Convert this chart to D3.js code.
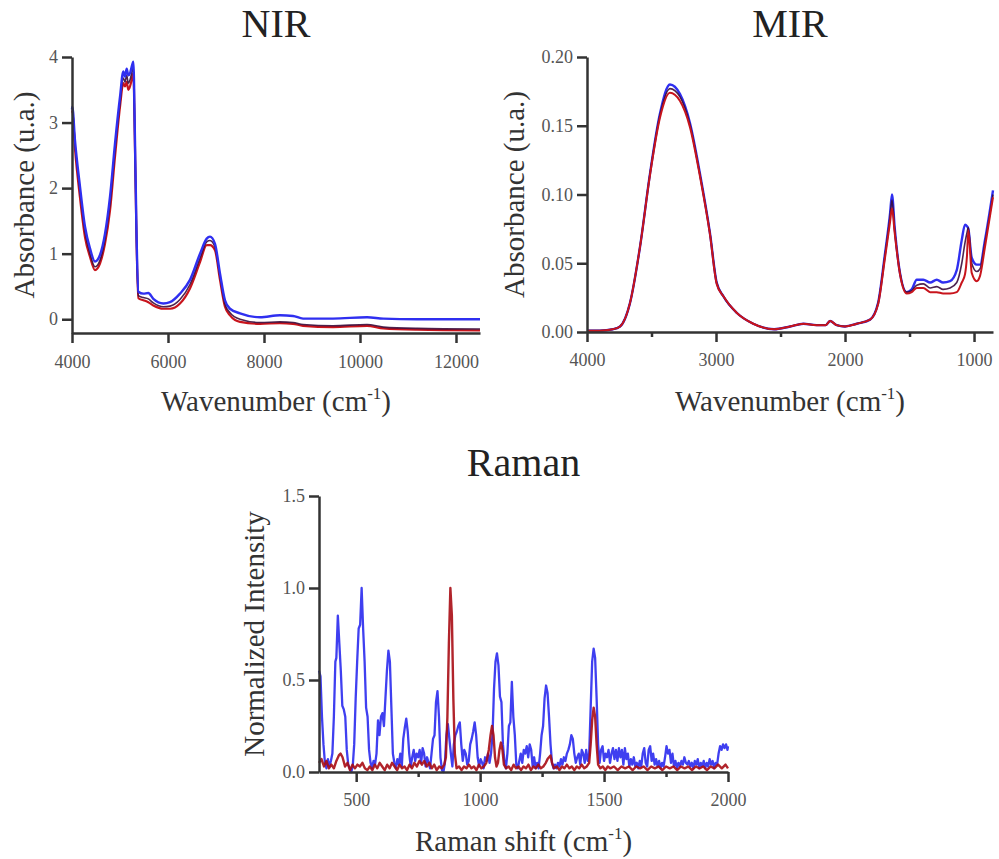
<!DOCTYPE html>
<html>
<head>
<meta charset="utf-8">
<script src="https://cdn.jsdelivr.net/npm/d3@7"></script>
<style>
  body { margin: 0; background: #fff; }
  svg { display: block; }
  text { font-family: "Liberation Serif", "Times New Roman", serif; }
  .axis path, .axis line { stroke: #333; stroke-width: 2.5; }
  .axis text { fill: #555; font-size: 18px; font-family: "Liberation Serif", "Times New Roman", serif; }
</style>
</head>
<body>
<svg id="chart" width="999" height="859"></svg>
<script>
// NIR spectra (wavenumber, absorbance)
var nirX = [4000, 4007, 4062, 4167, 4271, 4375, 4479, 4583, 4687, 4792,
  4896, 5000, 5069, 5104, 5139, 5174, 5208, 5243, 5278, 5312,
  5347, 5382, 5486, 5590, 5694, 5903, 6042, 6250, 6458, 6667,
  6806, 6875, 6979, 7083, 7187, 7292, 7500, 7917, 8333, 8604,
  8813, 9437, 10146, 10486, 11187, 12500];
var nirBlue = [3.2, 3.24, 2.73, 2.02, 1.41, 1.08, 0.88, 0.98, 1.3, 1.87,
  2.68, 3.39, 3.78, 3.7, 3.82, 3.72, 3.75, 3.85, 3.93, 2.73,
  1.2, 0.42, 0.39, 0.40, 0.31, 0.24, 0.26, 0.39, 0.6, 1.0,
  1.23, 1.26, 1.15, 0.7, 0.29, 0.16, 0.09, 0.03, 0.06, 0.05,
  0.01, 0.01, 0.03, 0.01, 0.0, 0.0];
var nirDark = [3.2, 3.22, 2.68, 1.95, 1.33, 1.0, 0.8, 0.9, 1.22, 1.76,
  2.58, 3.3, 3.68, 3.62, 3.72, 3.6, 3.65, 3.75, 3.85, 2.65,
  1.15, 0.36, 0.33, 0.31, 0.25, 0.19, 0.2, 0.3, 0.53, 0.93,
  1.18, 1.2, 1.1, 0.65, 0.23, 0.1, 0.0, -0.05, -0.04, -0.05,
  -0.08, -0.1, -0.08, -0.12, -0.14, -0.15];
var nirRed = [3.15, 3.18, 2.6, 1.85, 1.25, 0.95, 0.75, 0.85, 1.15, 1.66,
  2.48, 3.24, 3.6, 3.55, 3.62, 3.5, 3.55, 3.65, 3.75, 2.6,
  1.1, 0.32, 0.29, 0.26, 0.21, 0.16, 0.16, 0.24, 0.47, 0.87,
  1.13, 1.13, 1.05, 0.6, 0.19, 0.06, -0.04, -0.07, -0.06, -0.07,
  -0.1, -0.12, -0.1, -0.14, -0.16, -0.17];

// MIR spectra
var mirX = [4000, 3900, 3800, 3744, 3667, 3589, 3512, 3434, 3357, 3279,
  3202, 3124, 3047, 2995, 2943, 2840, 2711, 2550, 2426, 2323,
  2220, 2150, 2116, 2065, 2000, 1910, 1806, 1744, 1693, 1651,
  1636, 1615, 1574, 1522, 1483, 1444, 1393, 1340, 1289, 1240,
  1186, 1134, 1095, 1070, 1055, 1044, 1018, 979, 953, 915,
  853];
var mirBlue = [0.001, 0.001, 0.002, 0.004, 0.021, 0.062, 0.115, 0.159, 0.180, 0.173,
  0.152, 0.115, 0.072, 0.036, 0.026, 0.014, 0.006, 0.002, 0.004, 0.006,
  0.005, 0.005, 0.008, 0.005, 0.004, 0.006, 0.009, 0.021, 0.055, 0.086,
  0.100, 0.076, 0.043, 0.029, 0.031, 0.038, 0.038, 0.036, 0.038, 0.036,
  0.037, 0.045, 0.067, 0.078, 0.077, 0.075, 0.054, 0.049, 0.049, 0.067,
  0.103];
var mirDark = [0.001, 0.001, 0.002, 0.004, 0.021, 0.062, 0.115, 0.158, 0.177, 0.171,
  0.151, 0.114, 0.072, 0.036, 0.026, 0.014, 0.006, 0.002, 0.004, 0.006,
  0.005, 0.005, 0.008, 0.005, 0.004, 0.006, 0.009, 0.021, 0.054, 0.084,
  0.096, 0.074, 0.043, 0.029, 0.030, 0.034, 0.035, 0.032, 0.033, 0.031,
  0.032, 0.036, 0.05, 0.065, 0.072, 0.076, 0.05, 0.044, 0.046, 0.065,
  0.1];
var mirRed = [0.001, 0.001, 0.002, 0.004, 0.021, 0.062, 0.114, 0.156, 0.174, 0.168,
  0.149, 0.113, 0.071, 0.035, 0.026, 0.014, 0.006, 0.002, 0.004, 0.006,
  0.005, 0.005, 0.008, 0.005, 0.004, 0.006, 0.009, 0.02, 0.052, 0.08,
  0.09, 0.072, 0.042, 0.028, 0.029, 0.032, 0.032, 0.029, 0.029, 0.028,
  0.028, 0.029, 0.036, 0.042, 0.055, 0.074, 0.043, 0.037, 0.041, 0.062,
  0.098];

// Raman spectra [shift, normalized intensity]
var ramanBlue = [[350,0.55],[356,0.52],[362,0.3],[368,0.15],[374,0.05],[380,0.02],[386,0.07],[392,0.03],[398,0.06],[404,0.1],
  [410,0.3],[416,0.6],[420,0.62],[426,0.85],[432,0.7],[438,0.55],[444,0.36],[450,0.34],[456,0.3],[462,0.12],
  [468,0.04],[474,0.02],[480,0.0],[486,0.03],[492,0.15],[498,0.4],[504,0.6],[510,0.78],[516,0.8],[522,1.0],
  [528,0.78],[534,0.6],[540,0.35],[546,0.3],[552,0.12],[558,0.05],[564,0.02],[570,0.06],[576,0.04],[582,0.1],
  [588,0.28],[594,0.2],[600,0.3],[606,0.32],[612,0.25],[618,0.4],[624,0.55],[630,0.66],[636,0.6],[642,0.35],
  [648,0.1],[654,0.05],[660,0.02],[666,0.07],[672,0.04],[678,0.1],[684,0.03],[690,0.18],[696,0.24],[702,0.29],
  [708,0.22],[714,0.1],[720,0.03],[726,0.08],[732,0.12],[738,0.06],[744,0.1],[750,0.08],[756,0.12],[762,0.05],
  [768,0.13],[774,0.1],[780,0.03],[786,0.08],[792,0.05],[798,0.02],[804,0.1],[810,0.18],[816,0.2],[822,0.38],
  [828,0.44],[834,0.3],[840,0.08],[846,0.01],[852,0.0],[858,0.05],[864,0.2],[870,0.26],[876,0.18],[882,0.1],
  [888,0.03],[894,0.15],[900,0.2],[906,0.22],[912,0.25],[918,0.27],[924,0.15],[930,0.06],[936,0.12],[942,0.1],
  [948,0.04],[954,0.06],[960,0.15],[966,0.18],[972,0.22],[978,0.27],[984,0.2],[990,0.08],[996,0.03],[1002,0.07],
  [1008,0.05],[1014,0.02],[1020,0.08],[1026,0.06],[1032,0.1],[1038,0.05],[1044,0.1],[1050,0.2],[1056,0.45],[1062,0.6],
  [1068,0.645],[1074,0.58],[1080,0.41],[1086,0.38],[1092,0.15],[1098,0.06],[1104,0.02],[1110,0.1],[1116,0.25],[1122,0.27],
  [1128,0.49],[1134,0.3],[1140,0.2],[1146,0.04],[1152,0.02],[1158,0.06],[1164,0.1],[1170,0.05],[1176,0.12],[1182,0.1],
  [1188,0.14],[1194,0.08],[1200,0.15],[1206,0.12],[1212,0.03],[1218,0.08],[1224,0.02],[1230,0.05],[1236,0.02],[1242,0.1],
  [1248,0.2],[1254,0.25],[1260,0.4],[1266,0.47],[1272,0.43],[1278,0.3],[1284,0.15],[1290,0.05],[1296,0.02],[1302,0.04],
  [1308,0.02],[1314,0.05],[1320,0.03],[1326,0.07],[1332,0.04],[1338,0.08],[1344,0.06],[1350,0.1],[1356,0.12],[1362,0.15],
  [1368,0.2],[1374,0.18],[1380,0.1],[1386,0.05],[1392,0.08],[1398,0.1],[1404,0.04],[1410,0.12],[1416,0.1],[1422,0.05],
  [1428,0.12],[1434,0.06],[1440,0.1],[1446,0.35],[1452,0.6],[1458,0.67],[1464,0.62],[1470,0.4],[1476,0.15],[1482,0.05],
  [1488,0.12],[1494,0.14],[1500,0.06],[1506,0.1],[1512,0.08],[1518,0.12],[1524,0.05],[1530,0.1],[1536,0.13],[1542,0.07],
  [1548,0.12],[1554,0.06],[1560,0.13],[1566,0.08],[1572,0.12],[1578,0.04],[1584,0.13],[1590,0.07],[1596,0.1],[1602,0.03],
  [1608,0.07],[1614,0.04],[1620,0.08],[1626,0.03],[1632,0.05],[1638,0.02],[1644,0.06],[1650,0.03],[1656,0.1],[1662,0.13],
  [1668,0.05],[1674,0.03],[1680,0.12],[1686,0.14],[1692,0.06],[1698,0.1],[1704,0.04],[1710,0.07],[1716,0.03],[1722,0.06],
  [1728,0.02],[1734,0.05],[1740,0.03],[1746,0.08],[1752,0.14],[1758,0.1],[1764,0.12],[1770,0.05],[1776,0.1],[1782,0.03],
  [1788,0.06],[1794,0.02],[1800,0.05],[1806,0.03],[1812,0.06],[1818,0.04],[1824,0.08],[1830,0.05],[1836,0.04],[1842,0.06],
  [1848,0.03],[1854,0.05],[1860,0.02],[1866,0.06],[1872,0.04],[1878,0.07],[1884,0.02],[1890,0.05],[1896,0.03],[1902,0.06],
  [1908,0.02],[1914,0.05],[1920,0.03],[1926,0.07],[1932,0.04],[1938,0.06],[1944,0.02],[1950,0.05],[1956,0.04],[1962,0.1],
  [1968,0.14],[1974,0.12],[1980,0.15],[1986,0.13],[1992,0.15],[1998,0.12],[2000,0.14]];
var ramanRed = [[350,0.05],[360,0.07],[370,0.03],[380,0.06],[390,0.02],[400,0.04],[410,0.02],[420,0.06],[430,0.09],[437,0.1],
  [445,0.08],[455,0.03],[465,0.05],[475,0.01],[485,0.04],[495,0.02],[505,0.04],[515,0.03],[525,0.05],[535,0.02],
  [545,0.01],[555,0.03],[565,0.01],[575,0.04],[585,0.02],[595,0.05],[605,0.03],[615,0.01],[625,0.04],[635,0.02],
  [645,0.05],[655,0.03],[665,0.01],[675,0.04],[685,0.02],[695,0.03],[705,0.01],[715,0.04],[725,0.02],[735,0.05],
  [745,0.03],[755,0.06],[765,0.04],[775,0.06],[785,0.03],[795,0.05],[805,0.02],[815,0.04],[825,0.01],[835,0.03],
  [845,0.02],[855,0.04],[862,0.08],[868,0.3],[874,0.7],[880,1.0],[886,0.85],[892,0.4],[898,0.1],[905,0.02],
  [915,0.03],[925,0.01],[935,0.03],[945,0.02],[955,0.04],[965,0.02],[975,0.03],[985,0.01],[995,0.04],[1005,0.02],
  [1015,0.03],[1025,0.05],[1035,0.12],[1042,0.2],[1048,0.25],[1054,0.2],[1060,0.08],[1066,0.03],[1072,0.05],[1078,0.12],
  [1084,0.16],[1090,0.12],[1096,0.04],[1105,0.02],[1115,0.03],[1125,0.01],[1135,0.04],[1145,0.02],[1155,0.03],[1165,0.01],
  [1175,0.03],[1185,0.02],[1195,0.04],[1205,0.01],[1215,0.03],[1225,0.02],[1235,0.04],[1245,0.02],[1255,0.03],[1265,0.05],
  [1272,0.07],[1278,0.08],[1284,0.09],[1290,0.05],[1298,0.02],[1310,0.03],[1320,0.01],[1330,0.03],[1340,0.02],[1350,0.04],
  [1360,0.02],[1370,0.03],[1380,0.01],[1390,0.03],[1400,0.02],[1410,0.04],[1420,0.02],[1430,0.03],[1440,0.05],[1446,0.15],
  [1452,0.28],[1458,0.35],[1464,0.3],[1470,0.15],[1476,0.04],[1485,0.02],[1495,0.03],[1505,0.01],[1515,0.03],[1525,0.02],
  [1540,0.03],[1555,0.01],[1570,0.03],[1585,0.02],[1600,0.03],[1615,0.01],[1630,0.03],[1645,0.02],[1660,0.03],[1675,0.01],
  [1690,0.03],[1705,0.02],[1720,0.03],[1735,0.01],[1750,0.03],[1765,0.02],[1780,0.03],[1795,0.01],[1810,0.03],[1825,0.02],
  [1840,0.03],[1855,0.01],[1870,0.03],[1885,0.02],[1900,0.03],[1915,0.01],[1930,0.03],[1945,0.02],[1960,0.04],[1975,0.02],
  [1990,0.04],[2000,0.02]];

var nirXTicks = [4000, 6000, 8000, 10000, 12000];
var nirYTicks = [0, 1, 2, 3, 4];
var mirXTicks = [4000, 3000, 2000, 1000];
var mirXMinor = [3500, 2500, 1500];
var mirYTicks = [0, 0.05, 0.10, 0.15, 0.20];
var ramanXTicks = [500, 1000, 1500, 2000];
var ramanXMinor = [750, 1250, 1750];
var ramanYTicks = [0, 0.5, 1.0, 1.5];

function zipXY(xs, ys) {
  return xs.map(function(v, i) { return [v, ys[i]]; });
}

var svg = d3.select("#chart");

function drawPanel(p) {
  var x = d3.scaleLinear().domain(p.xDomain).range([p.left, p.right]);
  var y = d3.scaleLinear().domain(p.yDomain).range([p.bottom, p.top]);
  var g = svg.append("g");

  p.series.forEach(function(s) {
    var line = d3.line()
      .x(function(d) { return x(d[0]); })
      .y(function(d) { return y(d[1]); })
      .curve(s.curve || d3.curveMonotoneX);
    g.append("path").datum(s.data)
      .attr("d", line)
      .attr("fill", "none")
      .attr("stroke", s.color)
      .attr("stroke-width", s.width)
      .attr("stroke-opacity", s.opacity)
      .attr("stroke-linejoin", "round");
  });

  g.append("g").attr("class", "axis")
    .attr("transform", "translate(0," + p.bottom + ")")
    .call(d3.axisBottom(x).tickValues(p.xTicks).tickSize(10).tickSizeOuter(0)
      .tickPadding(p.xPad).tickFormat(d3.format("d")));
  if (p.xMinor) {
    g.append("g").attr("class", "axis")
      .attr("transform", "translate(0," + p.bottom + ")")
      .call(d3.axisBottom(x).tickValues(p.xMinor).tickSize(5).tickFormat(""))
      .select(".domain").remove();
  }
  g.append("g").attr("class", "axis")
    .attr("transform", "translate(" + p.left + ",0)")
    .call(d3.axisLeft(y).tickValues(p.yTicks).tickSize(10).tickSizeOuter(0)
      .tickPadding(4).tickFormat(d3.format(p.yFormat)));

  // panel title
  g.append("text")
    .attr("x", (p.left + p.right) / 2).attr("y", p.titleY)
    .attr("text-anchor", "middle").attr("font-size", 40).attr("fill", "#222")
    .text(p.title);

  // x axis title with superscript
  var xt = g.append("text")
    .attr("x", (p.left + p.right) / 2).attr("y", p.xTitleY)
    .attr("text-anchor", "middle").attr("font-size", 29).attr("fill", "#333");
  xt.append("tspan").text(p.xTitle + " (cm");
  xt.append("tspan").attr("font-size", 17).attr("dy", -12).text("-1");
  xt.append("tspan").attr("dy", 12).text(")");

  g.append("text")
    .attr("transform", "translate(" + p.yTitleX + "," + ((p.top + p.bottom) / 2) + ") rotate(-90)")
    .attr("text-anchor", "middle").attr("font-size", 29).attr("fill", "#333")
    .text(p.yTitle);
}

drawPanel({
  title: "NIR", titleY: 37,
  left: 72, right: 480, top: 57, bottom: 333,
  xDomain: [4000, 12500], yDomain: [-0.21, 4],
  xTicks: nirXTicks, yTicks: nirYTicks, yFormat: "d", xPad: 12,
  xTitle: "Wavenumber", xTitleY: 411,
  yTitle: "Absorbance (u.a.)", yTitleX: 34,
  series: [
    { data: zipXY(nirX, nirRed), color: "#c8141c", width: 2.2, opacity: 1 },
    { data: zipXY(nirX, nirDark), color: "#3a0c3c", width: 1.6, opacity: 0.9 },
    { data: zipXY(nirX, nirBlue), color: "#2f2ff0", width: 2.4, opacity: 1 }
  ]
});

drawPanel({
  title: "MIR", titleY: 37,
  left: 587, right: 993, top: 57, bottom: 332,
  xDomain: [4000, 853], yDomain: [0, 0.2],
  xTicks: mirXTicks, xMinor: mirXMinor, yTicks: mirYTicks, yFormat: ".2f", xPad: 11,
  xTitle: "Wavenumber", xTitleY: 411,
  yTitle: "Absorbance (u.a.)", yTitleX: 524,
  series: [
    { data: zipXY(mirX, mirBlue), color: "#2f2ff0", width: 2.4, opacity: 1 },
    { data: zipXY(mirX, mirDark), color: "#3a0c3c", width: 1.6, opacity: 0.9 },
    { data: zipXY(mirX, mirRed), color: "#c8141c", width: 2.0, opacity: 1 }
  ]
});

drawPanel({
  title: "Raman", titleY: 476,
  left: 319, right: 728, top: 496, bottom: 772,
  xDomain: [350, 2000], yDomain: [0, 1.5],
  xTicks: ramanXTicks, xMinor: ramanXMinor, yTicks: ramanYTicks, yFormat: ".1f", xPad: 11,
  xTitle: "Raman shift", xTitleY: 851,
  yTitle: "Normalized Intensity", yTitleX: 264,
  series: [
    { data: ramanBlue, color: "#2a2aee", width: 2.3, opacity: 0.9, curve: d3.curveLinear },
    { data: ramanRed, color: "#a80c14", width: 2.4, opacity: 0.9, curve: d3.curveLinear }
  ]
});
</script>
</body>
</html>
